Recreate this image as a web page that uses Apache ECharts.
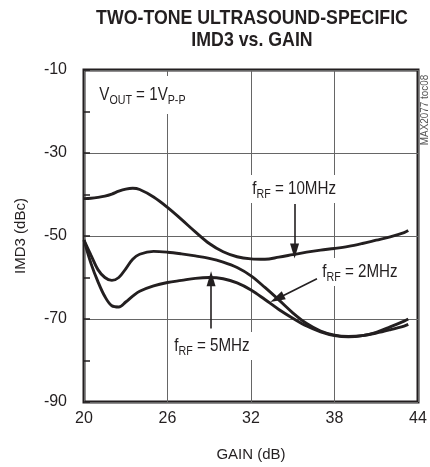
<!DOCTYPE html>
<html>
<head>
<meta charset="utf-8">
<script src="https://cdn.jsdelivr.net/npm/echarts@6/dist/echarts.min.js"></script>
<style>html,body{margin:0;padding:0;background:#fff}#c{width:430px;height:467px}</style>
</head>
<body>
<div id="c"></div>
<script>
// ---- data ----
const gain = [20, 20.5, 21, 21.5, 22, 22.5, 23, 23.5, 24, 25, 26, 27, 28, 29, 30, 31, 32, 33, 34, 35, 36, 37, 38, 39, 40, 41, 42, 43, 43.3];
const imd3_10MHz = [-41.0, -40.9, -40.7, -40.4, -39.9, -39.2, -38.7, -38.5, -38.8, -40.6, -43.1, -46.0, -49.0, -51.8, -53.8, -55.0, -55.5, -55.6, -55.1, -54.5, -53.9, -53.4, -53.0, -52.5, -51.8, -51.0, -50.2, -49.2, -48.7];
const imd3_2MHz = [-51.0, -54.6, -58.1, -60.0, -60.7, -60.0, -57.9, -55.6, -54.4, -53.7, -53.9, -54.3, -54.8, -55.4, -56.3, -57.6, -59.6, -62.4, -65.4, -68.5, -71.1, -72.9, -73.9, -74.2, -74.0, -73.4, -72.6, -71.7, -71.3];
const imd3_5MHz = [-51.0, -56.6, -61.0, -64.6, -66.8, -67.1, -65.9, -64.5, -63.3, -62.0, -61.2, -60.7, -60.2, -60.0, -60.3, -61.3, -63.0, -65.3, -67.7, -69.8, -71.7, -73.1, -74.0, -74.3, -74.0, -73.2, -71.9, -70.5, -70.0];
const xTicks = [20, 26, 32, 38, 44];
const yTicks = [-90, -70, -50, -30, -10];
// annotation arrows (data coords: [from, to])
const arrow10 = [[35.13, -42.3], [35.13, -53.6]];
const arrow2 = [[36.74, -60.3], [33.87, -65.1]];
const arrow5 = [[29.13, -72.3], [29.13, -60.3]];

const F = "'Liberation Sans',Arial,sans-serif";
const INK = '#231f20';
const NARROW = 0.82;

function pairs(xs, ys) { return xs.map((x, i) => [x, ys[i]]); }
function arrowLine(a) {
  return {
    silent: true,
    symbol: ['none', 'triangle'],
    symbolSize: [9, 15],
    label: { show: false },
    emphasis: { disabled: true },
    lineStyle: { color: INK, width: 1.6, type: 'solid' },
    data: [[{ coord: a[0] }, { coord: a[1] }]]
  };
}
const richStyles = {
  m: { fontSize: 18.5, fontFamily: F, color: INK, lineHeight: 24 },
  s: { fontSize: 13, fontFamily: F, color: INK, lineHeight: 12, verticalAlign: 'bottom' }
};
function label(x, y, text, pad) {
  return {
    type: 'text', x: x, y: y, z: 1, scaleX: NARROW,
    style: {
      text: text, rich: richStyles, fill: INK,
      align: 'left', verticalAlign: 'middle',
      backgroundColor: '#fff', padding: pad
    }
  };
}

const chart = echarts.init(document.getElementById('c'), null, { renderer: 'canvas' });
const lineCommon = {
  type: 'line', showSymbol: false, smooth: 0.35, silent: true,
  lineStyle: { color: INK, width: 2.9 }, z: 3
};
const yMin = yTicks[0], yMax = yTicks[yTicks.length - 1];
chart.setOption({
  animation: false,
  backgroundColor: '#fff',
  grid: { left: 84, right: 12, top: 70, bottom: 63, show: true, borderColor: INK, borderWidth: 3, backgroundColor: 'transparent' },
  xAxis: {
    type: 'value', min: xTicks[0], max: xTicks[xTicks.length - 1], interval: 6,
    name: 'GAIN (dB)', nameLocation: 'middle', nameGap: 45,
    nameTextStyle: { fontSize: 15, fontFamily: F, color: INK },
    axisLine: { show: false }, axisTick: { show: false },
    axisLabel: { fontSize: 16, fontFamily: F, color: INK, margin: 9 },
    splitLine: { show: true, lineStyle: { color: '#666', width: 1 } }
  },
  yAxis: [{
    type: 'value', min: yMin, max: yMax, interval: 20,
    name: 'IMD3 (dBc)', nameLocation: 'middle', nameGap: 56,
    nameTextStyle: { fontSize: 15, fontFamily: F, color: INK },
    axisLine: { show: false }, axisTick: { show: false },
    axisLabel: { fontSize: 16, fontFamily: F, color: INK, margin: 17 },
    splitLine: { show: true, lineStyle: { color: '#666', width: 1 } }
  }, {
    type: 'value', min: yMin, max: yMax, interval: 10, position: 'left', offset: 0,
    axisLine: { show: false }, axisLabel: { show: false }, splitLine: { show: false },
    axisTick: { show: true, inside: true, length: 6, lineStyle: { color: INK, width: 1.5 } }
  }],
  series: [
    Object.assign({ name: '10MHz', data: pairs(gain, imd3_10MHz), markLine: arrowLine(arrow10) }, lineCommon),
    Object.assign({ name: '2MHz', data: pairs(gain, imd3_2MHz), markLine: arrowLine(arrow2) }, lineCommon),
    Object.assign({ name: '5MHz', data: pairs(gain, imd3_5MHz), markLine: arrowLine(arrow5) }, lineCommon)
  ],
  graphic: [
    {
      type: 'text', x: 252, y: 18, scaleX: 0.845,
      style: { text: 'TWO-TONE ULTRASOUND-SPECIFIC', fontSize: 21, fontWeight: 'bold', fontFamily: F, fill: INK, align: 'center', verticalAlign: 'middle' }
    },
    {
      type: 'text', x: 252, y: 40, scaleX: 0.845,
      style: { text: 'IMD3 vs. GAIN', fontSize: 21, fontWeight: 'bold', fontFamily: F, fill: INK, align: 'center', verticalAlign: 'middle' }
    },
    label(96, 95, '{m|V}{s|OUT}{m| = 1V}{s|P-P}', [7, 4, 7, 4]),
    label(249, 189, '{m|f}{s|RF}{m| = 10MHz}', [2, 4, 2, 4]),
    label(319, 272, '{m|f}{s|RF}{m| = 2MHz}', [2, 4, 2, 4]),
    label(171, 346, '{m|f}{s|RF}{m| = 5MHz}', [2, 4, 2, 4]),
    {
      type: 'text', x: 425, y: 110, rotation: Math.PI / 2, z: 1, scaleX: 0.9,
      style: { text: 'MAX2077 toc08', fontSize: 11, fontFamily: F, fill: '#555', align: 'center', verticalAlign: 'middle' }
    }
  ]
});
</script>
</body>
</html>
